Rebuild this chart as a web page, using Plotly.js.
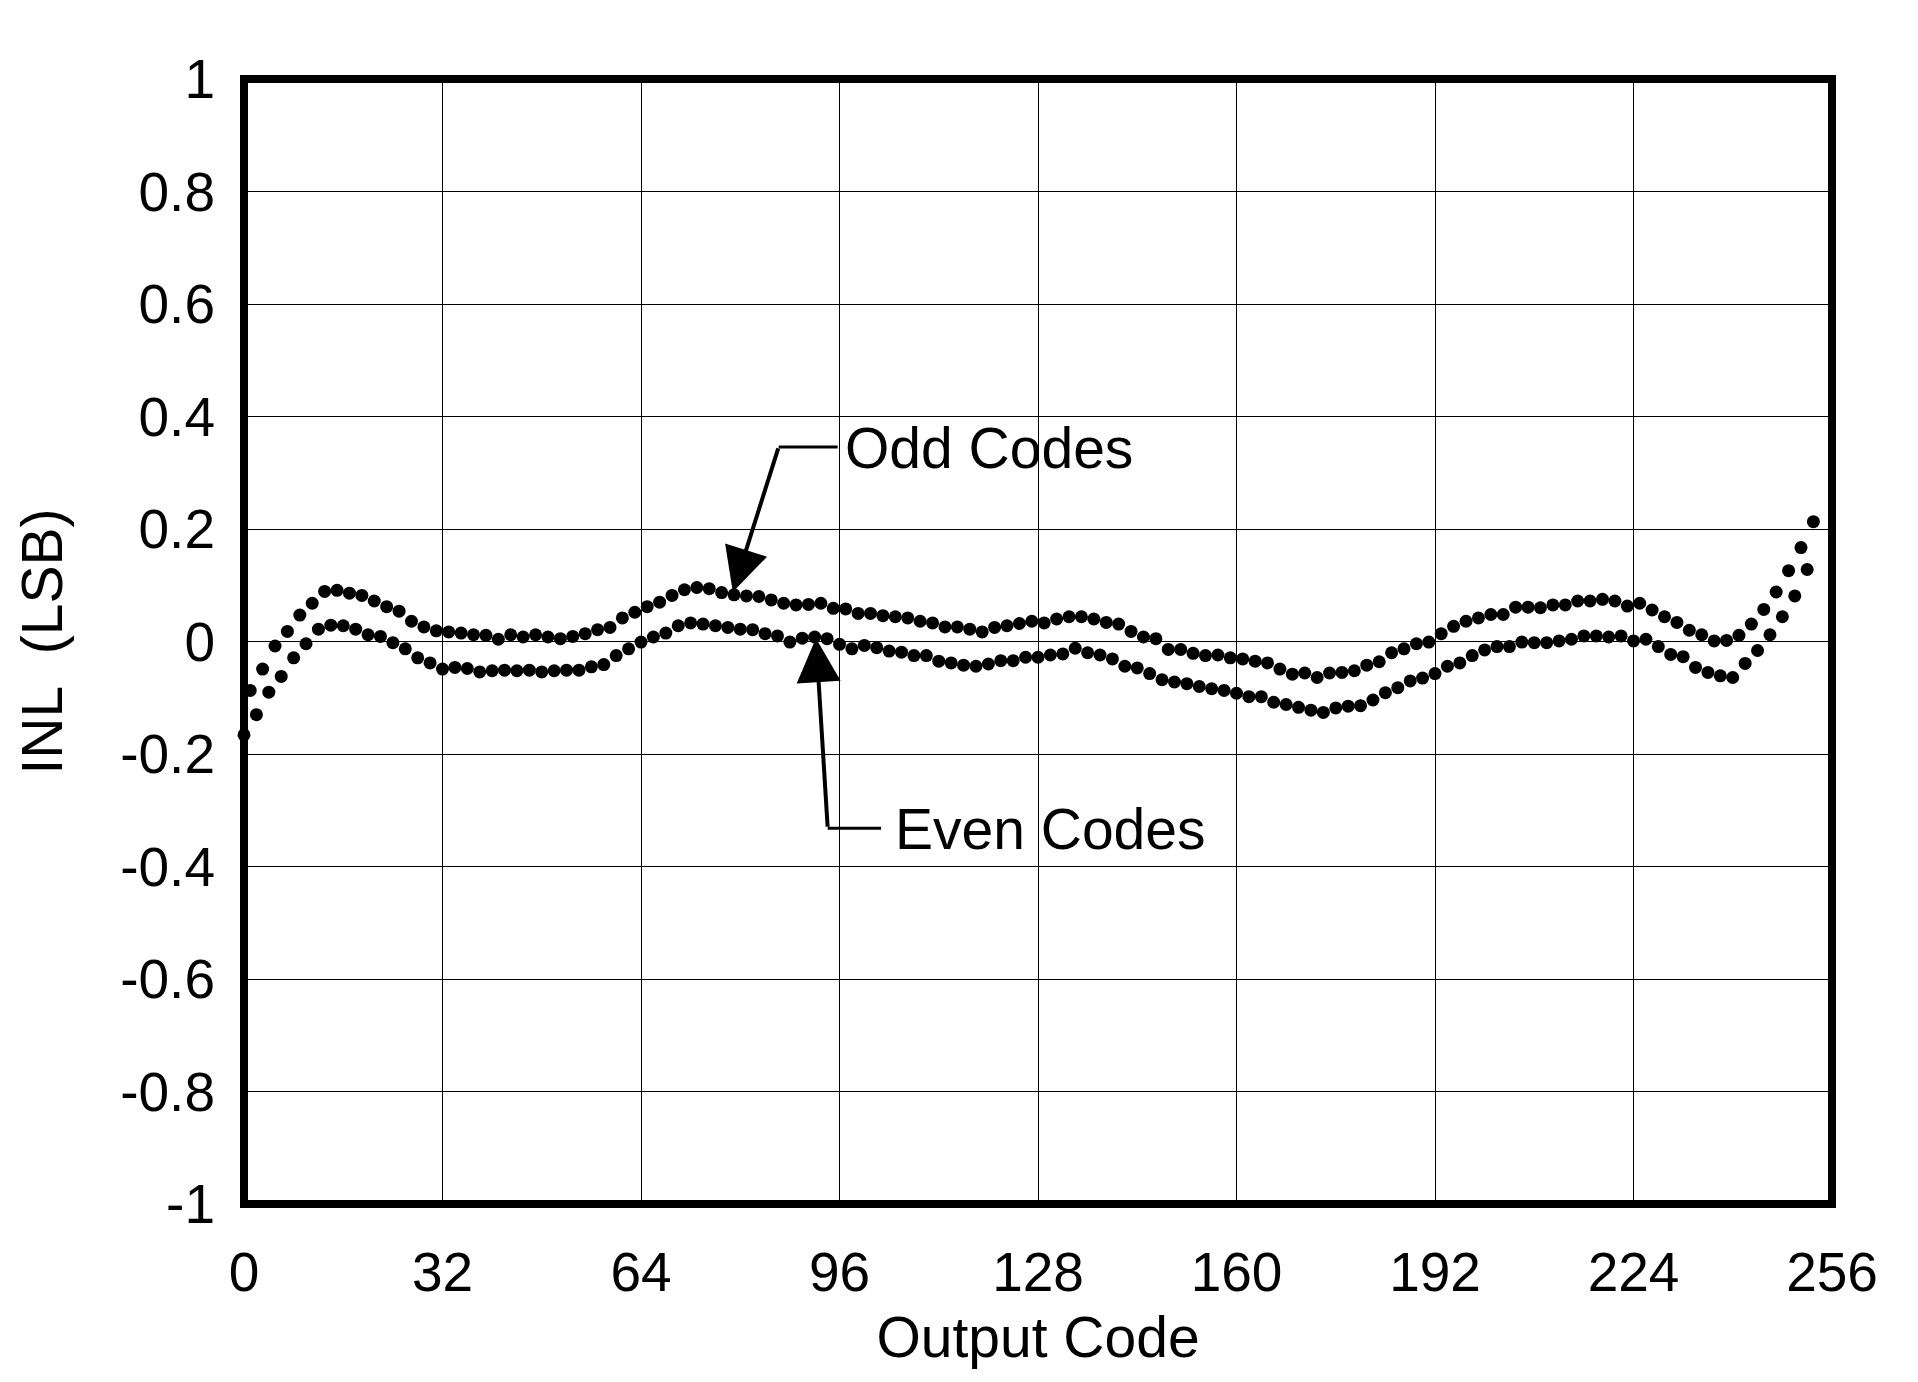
<!DOCTYPE html>
<html>
<head>
<meta charset="utf-8">
<script src="https://cdn.plot.ly/plotly-3.0.1.min.js"></script>
<style>
  html, body { margin: 0; padding: 0; background: #ffffff; }
  #chart { width: 1918px; height: 1382px; }
</style>
</head>
<body>
<div id="chart"></div>
<script>
// ---- Data ----
const evenCodes = [];
for (let c = 0; c <= 252; c += 2) evenCodes.push(c);
const oddCodes = [];
for (let c = 1; c <= 253; c += 2) oddCodes.push(c);

const evenINL = [
  -0.166, -0.130, -0.090, -0.062, -0.029, -0.004, 0.022, 0.029, 0.028, 0.022,
   0.012,  0.009, -0.002, -0.013, -0.029, -0.038, -0.049, -0.046, -0.048, -0.054,
  -0.052, -0.051, -0.052, -0.051, -0.054, -0.052, -0.051, -0.051, -0.045, -0.041,
  -0.025, -0.013, -0.001,  0.008,  0.015,  0.028,  0.033,  0.031,  0.028,  0.025,
   0.022,  0.021,  0.014,  0.010, -0.001,  0.006,  0.008,  0.005, -0.005, -0.013,
  -0.007, -0.011, -0.017, -0.019, -0.025, -0.025, -0.035, -0.038, -0.042, -0.044,
  -0.040, -0.034, -0.034, -0.028, -0.028, -0.024, -0.022, -0.012, -0.020, -0.024,
  -0.031, -0.044, -0.047, -0.057, -0.068, -0.072, -0.075, -0.080, -0.084, -0.087,
  -0.092, -0.098, -0.098, -0.108, -0.112, -0.117, -0.122, -0.126, -0.118, -0.115,
  -0.114, -0.104, -0.091, -0.082, -0.070, -0.065, -0.057, -0.044, -0.038, -0.025,
  -0.015, -0.009, -0.009, -0.001, -0.002, -0.002,  0.001,  0.004,  0.010,  0.010,
   0.008,  0.010,  0.001,  0.004, -0.009, -0.023, -0.027, -0.046, -0.055, -0.061,
  -0.064, -0.039, -0.016,  0.012,  0.044,  0.081,  0.128
];

const oddINL = [
  -0.087, -0.049, -0.008,  0.018,  0.047,  0.068,  0.089,  0.091,  0.086,  0.082,
   0.072,  0.062,  0.054,  0.036,  0.026,  0.019,  0.017,  0.015,  0.012,  0.011,
   0.004,  0.012,  0.008,  0.012,  0.008,  0.005,  0.009,  0.014,  0.021,  0.025,
   0.042,  0.052,  0.062,  0.070,  0.082,  0.092,  0.096,  0.094,  0.087,  0.083,
   0.081,  0.080,  0.074,  0.068,  0.065,  0.066,  0.068,  0.059,  0.058,  0.050,
   0.050,  0.046,  0.044,  0.042,  0.036,  0.033,  0.026,  0.026,  0.022,  0.017,
   0.025,  0.028,  0.032,  0.036,  0.033,  0.040,  0.044,  0.044,  0.040,  0.034,
   0.031,  0.018,  0.008,  0.005, -0.014, -0.014, -0.021, -0.025, -0.024, -0.029,
  -0.031, -0.035, -0.038, -0.049, -0.058, -0.056, -0.064, -0.056, -0.055, -0.052,
  -0.042, -0.036, -0.020, -0.013, -0.004, -0.001,  0.014,  0.027,  0.036,  0.042,
   0.048,  0.048,  0.061,  0.061,  0.060,  0.065,  0.065,  0.072,  0.072,  0.075,
   0.072,  0.063,  0.068,  0.056,  0.044,  0.034,  0.020,  0.012,  0.001,  0.002,
   0.011,  0.031,  0.057,  0.088,  0.126,  0.167,  0.213
];

const xTickVals = [0, 32, 64, 96, 128, 160, 192, 224, 256];
const xTickText = ["0", "32", "64", "96", "128", "160", "192", "224", "256"];
const yTickVals = [1, 0.8, 0.6, 0.4, 0.2, 0, -0.2, -0.4, -0.6, -0.8, -1];
const yTickText = ["1", "0.8", "0.6", "0.4", "0.2", "0", "-0.2", "-0.4", "-0.6", "-0.8", "-1"];

const xTitle = "Output Code";
const yTitle = "INL\u00a0\u00a0(LSB)";
const oddLabel = "Odd Codes";
const evenLabel = "Even Codes";

// ---- Styling ----
const FONT = "Liberation Sans, Arial, Helvetica, sans-serif";
const markerStyle = { color: "#000000", size: 13, symbol: "circle" };

const traces = [
  { x: evenCodes, y: evenINL, type: "scatter", mode: "markers", name: evenLabel,
    marker: markerStyle, cliponaxis: false, hoverinfo: "skip" },
  { x: oddCodes, y: oddINL, type: "scatter", mode: "markers", name: oddLabel,
    marker: markerStyle, cliponaxis: false, hoverinfo: "skip" }
];

const layout = {
  width: 1918, height: 1382,
  paper_bgcolor: "#ffffff", plot_bgcolor: "#ffffff",
  showlegend: false,
  margin: { l: 244, r: 86, t: 79, b: 178, pad: 0 },
  font: { family: FONT, color: "#000000" },
  xaxis: {
    range: [0, 256], tickvals: xTickVals, ticktext: xTickText,
    showgrid: true, gridcolor: "#000000", gridwidth: 1,
    zeroline: false, showline: false, ticks: "",
    ticklabelstandoff: 31,
    tickfont: { family: FONT, size: 55, color: "#000000" },
    title: { text: xTitle, font: { family: FONT, size: 57, color: "#000000" }, standoff: 15 },
    fixedrange: true
  },
  yaxis: {
    range: [-1, 1], tickvals: yTickVals, ticktext: yTickText,
    showgrid: true, gridcolor: "#000000", gridwidth: 1,
    zeroline: false, showline: false, ticks: "",
    ticklabelstandoff: 28,
    tickfont: { family: FONT, size: 55, color: "#000000" },
    title: { text: yTitle, font: { family: FONT, size: 57, color: "#000000" }, standoff: 39 },
    fixedrange: true
  },
  shapes: [
    { type: "rect", xref: "paper", yref: "paper", x0: 0, x1: 1, y0: 0, y1: 1,
      line: { color: "#000000", width: 8 }, layer: "above" },
    // elbow of "Odd Codes" leader
    { type: "line", xref: "x", yref: "y", x0: 86.2, x1: 95.7, y0: 0.346, y1: 0.346,
      line: { color: "#000000", width: 3 } },
    // elbow of "Even Codes" leader
    { type: "line", xref: "x", yref: "y", x0: 94.1, x1: 102.7, y0: -0.332, y1: -0.332,
      line: { color: "#000000", width: 3 } }
  ],
  annotations: [
    { x: 78.8, y: 0.088, xref: "x", yref: "y", ax: 86.2, ay: 0.346, axref: "x", ayref: "y",
      text: "", showarrow: true, arrowhead: 2, arrowsize: 2.2, arrowwidth: 4,
      arrowcolor: "#000000", standoff: 0, startstandoff: 0 },
    { x: 92.2, y: 0.006, xref: "x", yref: "y", ax: 94.1, ay: -0.332, axref: "x", ayref: "y",
      text: "", showarrow: true, arrowhead: 2, arrowsize: 2.2, arrowwidth: 4,
      arrowcolor: "#000000", standoff: 0, startstandoff: 0 },
    { x: 96.6, y: 0.344, xref: "x", yref: "y", text: oddLabel, showarrow: false,
      xanchor: "left", yanchor: "middle",
      font: { family: FONT, size: 57, color: "#000000" } },
    { x: 104.6, y: -0.334, xref: "x", yref: "y", text: evenLabel, showarrow: false,
      xanchor: "left", yanchor: "middle",
      font: { family: FONT, size: 57, color: "#000000" } }
  ]
};

Plotly.newPlot("chart", traces, layout, { staticPlot: true, displayModeBar: false });
</script>
</body>
</html>
